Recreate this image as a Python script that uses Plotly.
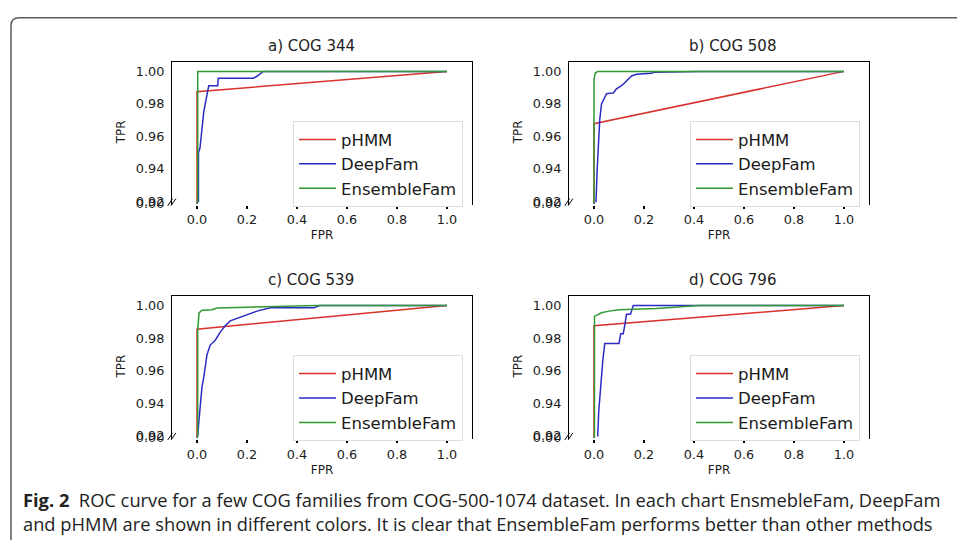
import plotly.graph_objects as go

# ---------------- data ----------------
fpr_tick_vals = [0.0, 0.2, 0.4, 0.6, 0.8, 1.0]
fpr_tick_text = ["0.0", "0.2", "0.4", "0.6", "0.8", "1.0"]
tpr_tick_vals = [0.92, 0.94, 0.96, 0.98, 1.00]
tpr_tick_text = ["0.92", "0.94", "0.96", "0.98", "1.00"]
low_tick_vals = [0.0]
low_tick_text = ["0.00"]

panel_titles = ["a) COG 344", "b) COG 508", "c) COG 539", "d) COG 796"]
methods = ["pHMM", "DeepFam", "EnsembleFam"]

# a) COG 344
a_phmm_fpr = [0.0, 0.0, 1.0]
a_phmm_tpr = [0.0, 0.9875, 1.0]
a_deep_fpr = [0.0, 0.003, 0.006, 0.012, 0.016, 0.020, 0.027, 0.033, 0.037, 0.043, 0.047, 0.083, 0.085, 0.225, 0.240, 0.265, 1.0]
a_deep_tpr = [0.0, 0.943, 0.950, 0.953, 0.960, 0.968, 0.975, 0.980, 0.984, 0.987, 0.9912, 0.9912, 0.9958, 0.9958, 0.997, 1.0, 1.0]
a_ens_fpr = [0.0, 0.002, 0.003, 1.0]
a_ens_tpr = [0.0, 0.99, 1.0, 1.0]

# b) COG 508
b_phmm_fpr = [0.0, 0.0, 1.0]
b_phmm_tpr = [0.0, 0.9678, 1.0]
b_deep_fpr = [0.0, 0.008, 0.013, 0.017, 0.023, 0.030, 0.037, 0.043, 0.050, 0.065, 0.077, 0.090, 0.100, 0.110, 0.120, 0.130, 0.150, 0.170, 0.230, 0.240, 0.410, 0.420, 1.0]
b_deep_tpr = [0.0, 0.920, 0.9405, 0.9564, 0.9703, 0.980, 0.9825, 0.9843, 0.9863, 0.9865, 0.9867, 0.9893, 0.990, 0.9912, 0.9925, 0.9942, 0.9972, 0.9982, 0.9988, 0.9994, 0.9996, 1.0, 1.0]
b_ens_fpr = [0.0, 0.0, 0.005, 0.015, 1.0]
b_ens_tpr = [0.0, 0.995, 0.999, 1.0, 1.0]

# c) COG 539
c_phmm_fpr = [0.0, 0.0, 1.0]
c_phmm_tpr = [0.0, 0.9855, 1.0]
c_deep_fpr = [0.0, 0.003, 0.007, 0.012, 0.020, 0.027, 0.033, 0.040, 0.053, 0.073, 0.093, 0.113, 0.133, 0.167, 0.200, 0.240, 0.293, 0.467, 0.490, 1.0]
c_deep_tpr = [0.0, 0.920, 0.928, 0.936, 0.950, 0.9558, 0.9638, 0.9698, 0.9757, 0.9787, 0.9837, 0.9876, 0.9906, 0.9926, 0.9946, 0.9966, 0.9986, 0.9986, 1.0, 1.0]
c_ens_fpr = [0.0, 0.003, 0.008, 0.020, 0.060, 0.080, 0.200, 0.450, 0.480, 1.0]
c_ens_tpr = [0.0, 0.985, 0.9955, 0.9972, 0.9975, 0.9985, 0.999, 0.9995, 1.0, 1.0]

# d) COG 796
d_phmm_fpr = [0.0, 0.0, 1.0]
d_phmm_tpr = [0.0, 0.9876, 1.0]
d_deep_fpr = [0.0, 0.015, 0.019, 0.027, 0.035, 0.043, 0.100, 0.107, 0.117, 0.124, 0.130, 0.146, 0.157, 1.0]
d_deep_tpr = [0.0, 0.920, 0.935, 0.9518, 0.9658, 0.9767, 0.9767, 0.9827, 0.9827, 0.9887, 0.9946, 0.9946, 1.0, 1.0]
d_ens_fpr = [0.0, 0.002, 0.010, 0.030, 0.060, 0.100, 0.250, 0.420, 1.0]
d_ens_tpr = [0.0, 0.9935, 0.994, 0.9956, 0.9966, 0.9974, 0.9982, 1.0, 1.0]

panels_data = [
    [(a_phmm_fpr, a_phmm_tpr), (a_deep_fpr, a_deep_tpr), (a_ens_fpr, a_ens_tpr)],
    [(b_phmm_fpr, b_phmm_tpr), (b_deep_fpr, b_deep_tpr), (b_ens_fpr, b_ens_tpr)],
    [(c_phmm_fpr, c_phmm_tpr), (c_deep_fpr, c_deep_tpr), (c_ens_fpr, c_ens_tpr)],
    [(d_phmm_fpr, d_phmm_tpr), (d_deep_fpr, d_deep_tpr), (d_ens_fpr, d_ens_tpr)],
]

caption = ("<b>Fig. 2</b>&nbsp;&nbsp;ROC curve for a few COG families from COG-500-1074 dataset. "
           "In each chart EnsmebleFam, DeepFam<br>"
           "and pHMM are shown in different colors. It is clear that EnsembleFam performs better than other methods")

# ---------------- style / layout ----------------
W, H = 957, 540
colors = ["#d8322e", "#2b2bc4", "#2f9a33"]
FONT = "DejaVu Sans"
TXT = "#1a1a1a"
panel_pos = [(172, 57), (569, 57), (172, 297), (569, 297)]
title_cx = [311, 732, 311, 732]
PW, UH, LH = 300, 144, 3


def fx(px):
    return px / W


def fy(py):
    return 1 - py / H


fig = go.Figure()
layout = dict(
    width=W, height=H, margin=dict(l=0, r=0, t=0, b=0),
    paper_bgcolor="white", plot_bgcolor="white", showlegend=True,
    annotations=[], shapes=[],
)

for i, (left, top) in enumerate(panel_pos):
    un, ln = 2 * i + 1, 2 * i + 2
    uxk = "xaxis" if un == 1 else f"xaxis{un}"
    uyk = "yaxis" if un == 1 else f"yaxis{un}"
    lxk, lyk = f"xaxis{ln}", f"yaxis{ln}"
    uxr = "x" if un == 1 else f"x{un}"
    uyr = "y" if un == 1 else f"y{un}"
    lxr, lyr = f"x{ln}", f"y{ln}"
    legk = "legend" if i == 0 else f"legend{i + 1}"

    xdom = [fx(left), fx(left + PW)]
    layout[uxk] = dict(domain=xdom, anchor=uyr, range=[-0.1, 1.1], side="top",
                       showline=True, linecolor="black", linewidth=1.3,
                       showticklabels=False, ticks="", showgrid=False, zeroline=False)
    layout[uyk] = dict(domain=[fy(top + UH), fy(top)], anchor=uxr, range=[0.9195, 1.006],
                       showline=True, mirror=True, linecolor="black", linewidth=1.3,
                       tickvals=tpr_tick_vals, ticktext=tpr_tick_text,
                       ticks="outside", ticklen=4, tickcolor="rgba(0,0,0,0)",
                       tickfont=dict(family=FONT, size=12.8, color=TXT),
                       showgrid=False, zeroline=False,
                       title=dict(text="TPR", font=dict(family=FONT, size=12, color=TXT), standoff=7))
    layout[lxk] = dict(domain=xdom, anchor=lyr, range=[-0.1, 1.1],
                       showline=False, tickvals=fpr_tick_vals, ticktext=fpr_tick_text,
                       ticks="outside", ticklen=3, tickwidth=1.5, tickcolor="black",
                       tickfont=dict(family=FONT, size=12.8, color=TXT),
                       showgrid=False, zeroline=False,
                       title=dict(text="FPR", font=dict(family=FONT, size=12, color=TXT), standoff=4))
    layout[lyk] = dict(domain=[fy(top + UH + LH), fy(top + UH)], anchor=lxr, range=[-0.001, 0.001],
                       showline=True, mirror=True, linecolor="black", linewidth=1.3,
                       tickvals=low_tick_vals, ticktext=low_tick_text,
                       ticks="outside", ticklen=4, tickcolor="rgba(0,0,0,0)",
                       tickfont=dict(family=FONT, size=12.8, color=TXT),
                       showgrid=False, zeroline=False)

    for k, (xs, ys) in enumerate(panels_data[i]):
        fig.add_trace(go.Scatter(x=xs, y=ys, mode="lines", name=methods[k],
                                 line=dict(color=colors[k], width=1.5),
                                 xaxis=uxr, yaxis=uyr, legend=legk, showlegend=True))
        fig.add_trace(go.Scatter(x=xs, y=ys, mode="lines", name=methods[k],
                                 line=dict(color=colors[k], width=1.5),
                                 xaxis=lxr, yaxis=lyr, showlegend=False))

    layout[legk] = dict(x=fx(left + 121), y=fy(top + 61), xanchor="left", yanchor="top",
                        bgcolor="white", bordercolor="#dddddd", borderwidth=1,
                        font=dict(family=FONT, size=16.5, color=TXT),
                        itemwidth=37, tracegroupgap=0)

    layout["annotations"].append(dict(
        text=panel_titles[i], xref="paper", yref=f"{uyr} domain", x=fx(title_cx[i]), y=1.0,
        xanchor="center", yanchor="bottom", yshift=5, showarrow=False,
        font=dict(family=FONT, size=15, color="#222222")))

    # broken-axis marks
    for dx in (0.0, 0.011):
        layout["shapes"].append(dict(type="line", xref=f"{uxr} domain", yref=f"{uyr} domain",
                                     x0=-0.014 + dx, y0=-0.025, x1=0.002 + dx, y1=0.025,
                                     line=dict(color="black", width=1)))

layout["annotations"].append(dict(
    text=caption, xref="paper", yref="paper", x=fx(21), y=fy(491), xanchor="left", yanchor="top",
    align="left", showarrow=False, font=dict(family="Open Sans", size=18.3, color="#222222")))

layout["shapes"].append(dict(
    type="path", xref="paper", yref="paper",
    path=f"M {fx(11)},{fy(560)} L {fx(11)},{fy(20)} Q {fx(11)},{fy(12)} {fx(19)},{fy(12)} L {fx(970)},{fy(12)}",
    line=dict(color="#5a5a5a", width=1.5)))

fig.update_layout(**layout)
fig.write_html("out.html", config={"displayModeBar": False},
               post_script="document.body.style.margin='0px';document.body.style.overflow='hidden';")
